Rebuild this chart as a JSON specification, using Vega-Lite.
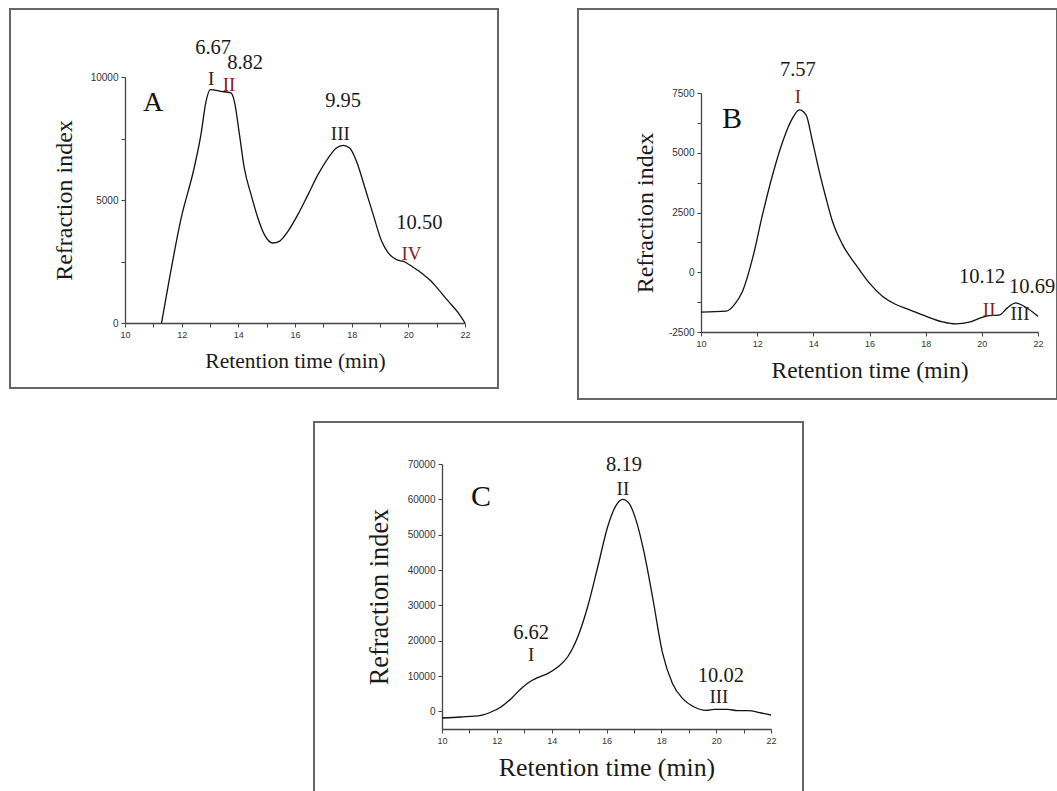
{
  "$schema": "https://vega.github.io/schema/vega-lite/v6.json",
  "padding": {"left": 9, "top": 8, "right": 0, "bottom": 0},
  "background": "white",
  "datasets": {
    "curveA": [
      {"t": 11.29, "ri": 0}, {"t": 11.56, "ri": 1750}, {"t": 11.97, "ri": 4200}, {"t": 12.44, "ri": 6301},
      {"t": 12.68, "ri": 7656}, {"t": 12.86, "ri": 9011}, {"t": 13.01, "ri": 9485}, {"t": 13.39, "ri": 9417},
      {"t": 13.74, "ri": 9350}, {"t": 13.86, "ri": 9011}, {"t": 14.04, "ri": 7656}, {"t": 14.21, "ri": 6301},
      {"t": 14.45, "ri": 5217}, {"t": 14.69, "ri": 4268}, {"t": 14.92, "ri": 3591}, {"t": 15.22, "ri": 3252},
      {"t": 15.45, "ri": 3320}, {"t": 15.75, "ri": 3726}, {"t": 16.10, "ri": 4404}, {"t": 16.46, "ri": 5217},
      {"t": 16.81, "ri": 6030}, {"t": 17.17, "ri": 6707}, {"t": 17.46, "ri": 7114}, {"t": 17.70, "ri": 7222},
      {"t": 17.93, "ri": 7114}, {"t": 18.17, "ri": 6572}, {"t": 18.47, "ri": 5488}, {"t": 18.76, "ri": 4404},
      {"t": 19.06, "ri": 3320}, {"t": 19.29, "ri": 2846}, {"t": 19.59, "ri": 2575}, {"t": 19.88, "ri": 2480},
      {"t": 20.12, "ri": 2304}, {"t": 20.5, "ri": 2000}, {"t": 20.8, "ri": 1707}, {"t": 21.0, "ri": 1450},
      {"t": 21.4, "ri": 900}, {"t": 21.77, "ri": 400}, {"t": 22.0, "ri": 0}
    ],
    "labelsA": [
      {"t": 13.11, "ri": 11179, "label": "6.67", "kind": "peak", "tone": "dark"},
      {"t": 14.24, "ri": 10569, "label": "8.82", "kind": "peak", "tone": "dark"},
      {"t": 13.04, "ri": 9919, "label": "I", "kind": "fraction", "tone": "dark"},
      {"t": 13.67, "ri": 9675, "label": "II", "kind": "fraction", "tone": "red"},
      {"t": 17.70, "ri": 9024, "label": "9.95", "kind": "peak", "tone": "dark"},
      {"t": 17.60, "ri": 7683, "label": "III", "kind": "fraction", "tone": "dark"},
      {"t": 20.39, "ri": 4065, "label": "10.50", "kind": "peak", "tone": "dark"},
      {"t": 20.11, "ri": 2805, "label": "IV", "kind": "fraction", "tone": "red"},
      {"t": 10.99, "ri": 8943, "label": "A", "kind": "panel", "tone": "dark"}
    ],
    "curveB": [
      {"t": 10.0, "ri": -1671}, {"t": 10.89, "ri": -1630}, {"t": 11.19, "ri": -1351}, {"t": 11.48, "ri": -794},
      {"t": 11.84, "ri": 599}, {"t": 12.19, "ri": 2409}, {"t": 12.55, "ri": 4081}, {"t": 12.91, "ri": 5474},
      {"t": 13.26, "ri": 6448}, {"t": 13.50, "ri": 6797}, {"t": 13.74, "ri": 6588}, {"t": 13.97, "ri": 5474},
      {"t": 14.21, "ri": 4220}, {"t": 14.45, "ri": 3106}, {"t": 14.68, "ri": 2131}, {"t": 15.04, "ri": 1156},
      {"t": 15.51, "ri": 320}, {"t": 15.99, "ri": -446}, {"t": 16.46, "ri": -1003}, {"t": 16.94, "ri": -1351},
      {"t": 17.41, "ri": -1560}, {"t": 18.00, "ri": -1838}, {"t": 18.60, "ri": -2075}, {"t": 19.07, "ri": -2159},
      {"t": 19.55, "ri": -2089}, {"t": 19.96, "ri": -1908}, {"t": 20.26, "ri": -1811}, {"t": 20.61, "ri": -1797},
      {"t": 20.91, "ri": -1490}, {"t": 21.21, "ri": -1281}, {"t": 21.50, "ri": -1421}, {"t": 22.0, "ri": -1838}
    ],
    "labelsB": [
      {"t": 13.45, "ri": 8462, "label": "7.57", "kind": "peak", "tone": "dark"},
      {"t": 13.45, "ri": 7333, "label": "I", "kind": "fraction", "tone": "red"},
      {"t": 20.01, "ri": -199, "label": "10.12", "kind": "peak", "tone": "dark"},
      {"t": 20.26, "ri": -1579, "label": "II", "kind": "fraction", "tone": "red"},
      {"t": 21.79, "ri": -613, "label": "10.69", "kind": "peak", "tone": "dark"},
      {"t": 21.36, "ri": -1742, "label": "III", "kind": "fraction", "tone": "dark"},
      {"t": 11.10, "ri": 6412, "label": "B", "kind": "panel", "tone": "dark"}
    ],
    "curveC": [
      {"t": 10.0, "ri": -1887}, {"t": 10.69, "ri": -1604}, {"t": 11.42, "ri": -1132}, {"t": 11.79, "ri": -189},
      {"t": 12.15, "ri": 1226}, {"t": 12.52, "ri": 3585}, {"t": 12.88, "ri": 6415}, {"t": 13.19, "ri": 8302},
      {"t": 13.49, "ri": 9528}, {"t": 13.85, "ri": 10660}, {"t": 14.22, "ri": 12547}, {"t": 14.58, "ri": 15377},
      {"t": 14.95, "ri": 21038}, {"t": 15.31, "ri": 29528}, {"t": 15.68, "ri": 40849}, {"t": 16.04, "ri": 52170},
      {"t": 16.35, "ri": 58302}, {"t": 16.59, "ri": 60000}, {"t": 16.83, "ri": 58774}, {"t": 17.08, "ri": 54057},
      {"t": 17.38, "ri": 44623}, {"t": 17.68, "ri": 32358}, {"t": 18.05, "ri": 16321}, {"t": 18.41, "ri": 7830},
      {"t": 18.78, "ri": 3585}, {"t": 19.20, "ri": 1226}, {"t": 19.63, "ri": 283}, {"t": 19.93, "ri": 566},
      {"t": 20.42, "ri": 566}, {"t": 20.78, "ri": 189}, {"t": 21.15, "ri": 189}, {"t": 21.64, "ri": -472},
      {"t": 22.0, "ri": -1038}
    ],
    "labelsC": [
      {"t": 16.64, "ri": 69717, "label": "8.19", "kind": "peak", "tone": "dark"},
      {"t": 16.60, "ri": 62915, "label": "II", "kind": "fraction", "tone": "dark"},
      {"t": 13.25, "ri": 22105, "label": "6.62", "kind": "peak", "tone": "dark"},
      {"t": 13.25, "ri": 15871, "label": "I", "kind": "fraction", "tone": "dark"},
      {"t": 20.17, "ri": 9919, "label": "10.02", "kind": "peak", "tone": "dark"},
      {"t": 20.10, "ri": 3968, "label": "III", "kind": "fraction", "tone": "dark"},
      {"t": 11.42, "ri": 60648, "label": "C", "kind": "panel", "tone": "dark"}
    ]
  },
  "vconcat": [
    {
      "hconcat": [
        {
          "width": 488, "height": 379,
          "view": {"stroke": "#666666", "strokeWidth": 2},
          "layer": [
            {
              "data": {"name": "curveA"},
              "mark": {"type": "line", "color": "#111111", "strokeWidth": 1.3, "interpolate": "monotone"},
              "encoding": {
                "x": {"field": "t", "type": "quantitative",
                  "scale": {"domain": [10, 22], "range": [115, 455], "nice": false, "zero": false},
                  "axis": {"title": "Retention time (min)", "offset": -65, "values": [10,11,12,13,14,15,16,17,18,19,20,21,22],
                    "labelExpr": "datum.value % 2 == 0 ? datum.label : ''", "titleFontSize": 21.5, "titlePadding": 11}},
                "y": {"field": "ri", "type": "quantitative",
                  "scale": {"domain": [0, 10000], "range": [314, 68], "nice": false, "zero": false},
                  "axis": {"title": "Refraction index", "offset": -115, "values": [0, 2500, 5000, 7500, 10000],
                    "labelExpr": "datum.value % 5000 == 0 ? '' + datum.value : ''", "labelFontSize": 10, "titleFontSize": 24, "titlePadding": 14}}
              }
            },
            {
              "data": {"name": "labelsA"},
              "transform": [{"filter": "datum.kind == 'peak'"}],
              "mark": {"type": "text", "fontSize": 20.5, "color": "#1a1a1a"},
              "encoding": {"x": {"field": "t", "type": "quantitative"}, "y": {"field": "ri", "type": "quantitative"}, "text": {"field": "label"}}
            },
            {
              "data": {"name": "labelsA"},
              "transform": [{"filter": "datum.kind == 'fraction'"}],
              "mark": {"type": "text", "fontSize": 19},
              "encoding": {"x": {"field": "t", "type": "quantitative"}, "y": {"field": "ri", "type": "quantitative"}, "text": {"field": "label"},
                "color": {"field": "tone", "type": "nominal", "scale": {"domain": ["dark", "red"], "range": ["#222222", "#8a2020"]}, "legend": null}}
            },
            {
              "data": {"name": "labelsA"},
              "transform": [{"filter": "datum.kind == 'panel'"}],
              "mark": {"type": "text", "fontSize": 28, "color": "#111111"},
              "encoding": {"x": {"field": "t", "type": "quantitative"}, "y": {"field": "ri", "type": "quantitative"}, "text": {"field": "label"}}
            }
          ]
        },
        {
          "width": 479, "height": 390,
          "view": {"stroke": "#666666", "strokeWidth": 2},
          "layer": [
            {
              "data": {"name": "curveB"},
              "mark": {"type": "line", "color": "#111111", "strokeWidth": 1.3, "interpolate": "monotone"},
              "encoding": {
                "x": {"field": "t", "type": "quantitative",
                  "scale": {"domain": [10, 22], "range": [123, 460], "nice": false, "zero": false},
                  "axis": {"title": "Retention time (min)", "offset": -67, "values": [10,11,12,13,14,15,16,17,18,19,20,21,22],
                    "labelExpr": "datum.value % 2 == 0 ? datum.label : ''", "titleFontSize": 23.5, "titlePadding": 10}},
                "y": {"field": "ri", "type": "quantitative",
                  "scale": {"domain": [-2500, 7500], "range": [323, 84], "nice": false, "zero": false},
                  "axis": {"title": "Refraction index", "offset": -123, "values": [-2500, -1250, 0, 1250, 2500, 3750, 5000, 6250, 7500],
                    "labelExpr": "datum.value % 2500 == 0 ? '' + datum.value : ''", "labelFontSize": 10, "titleFontSize": 24, "titlePadding": 11}}
              }
            },
            {
              "data": {"name": "labelsB"},
              "transform": [{"filter": "datum.kind == 'peak'"}],
              "mark": {"type": "text", "fontSize": 20.5, "color": "#1a1a1a"},
              "encoding": {"x": {"field": "t", "type": "quantitative"}, "y": {"field": "ri", "type": "quantitative"}, "text": {"field": "label"}}
            },
            {
              "data": {"name": "labelsB"},
              "transform": [{"filter": "datum.kind == 'fraction'"}],
              "mark": {"type": "text", "fontSize": 19},
              "encoding": {"x": {"field": "t", "type": "quantitative"}, "y": {"field": "ri", "type": "quantitative"}, "text": {"field": "label"},
                "color": {"field": "tone", "type": "nominal", "scale": {"domain": ["dark", "red"], "range": ["#222222", "#8a2020"]}, "legend": null}}
            },
            {
              "data": {"name": "labelsB"},
              "transform": [{"filter": "datum.kind == 'panel'"}],
              "mark": {"type": "text", "fontSize": 30, "color": "#111111"},
              "encoding": {"x": {"field": "t", "type": "quantitative"}, "y": {"field": "ri", "type": "quantitative"}, "text": {"field": "label"}}
            }
          ]
        }
      ],
      "spacing": 78
    },
    {
      "hconcat": [
        {
          "width": 303, "height": 5,
          "view": {"stroke": null},
          "data": {"values": [{"a": 1}]},
          "mark": {"type": "point", "opacity": 0}
        },
        {
          "width": 489, "height": 370,
          "view": {"stroke": "#666666", "strokeWidth": 2},
          "layer": [
            {
              "data": {"name": "curveC"},
              "mark": {"type": "line", "color": "#111111", "strokeWidth": 1.3, "interpolate": "monotone"},
              "encoding": {
                "x": {"field": "t", "type": "quantitative",
                  "scale": {"domain": [10, 22], "range": [128, 457], "nice": false, "zero": false},
                  "axis": {"title": "Retention time (min)", "offset": -63, "values": [10,11,12,13,14,15,16,17,18,19,20,21,22],
                    "labelExpr": "datum.value % 2 == 0 ? datum.label : ''", "titleFontSize": 25.8, "titlePadding": 10}},
                "y": {"field": "ri", "type": "quantitative",
                  "scale": {"domain": [-5000, 70000], "range": [307, 42], "nice": false, "zero": false},
                  "axis": {"title": "Refraction index", "offset": -128, "format": "d",
                    "values": [0, 10000, 20000, 30000, 40000, 50000, 60000, 70000],
                    "labelFontSize": 10, "titleFontSize": 26.4, "titlePadding": 14}}
              }
            },
            {
              "data": {"name": "labelsC"},
              "transform": [{"filter": "datum.kind == 'peak'"}],
              "mark": {"type": "text", "fontSize": 20.5, "color": "#1a1a1a"},
              "encoding": {"x": {"field": "t", "type": "quantitative"}, "y": {"field": "ri", "type": "quantitative"}, "text": {"field": "label"}}
            },
            {
              "data": {"name": "labelsC"},
              "transform": [{"filter": "datum.kind == 'fraction'"}],
              "mark": {"type": "text", "fontSize": 19},
              "encoding": {"x": {"field": "t", "type": "quantitative"}, "y": {"field": "ri", "type": "quantitative"}, "text": {"field": "label"},
                "color": {"field": "tone", "type": "nominal", "scale": {"domain": ["dark", "red"], "range": ["#222222", "#8a2020"]}, "legend": null}}
            },
            {
              "data": {"name": "labelsC"},
              "transform": [{"filter": "datum.kind == 'panel'"}],
              "mark": {"type": "text", "fontSize": 30, "color": "#111111"},
              "encoding": {"x": {"field": "t", "type": "quantitative"}, "y": {"field": "ri", "type": "quantitative"}, "text": {"field": "label"}}
            }
          ]
        }
      ],
      "spacing": 0
    }
  ],
  "spacing": 21,
  "config": {
    "view": {"stroke": "#666666", "strokeWidth": 2},
    "axis": {
      "grid": false,
      "domainColor": "#444444", "domainWidth": 1.3,
      "tickColor": "#444444", "tickSize": 4, "tickWidth": 1,
      "labelFont": "Liberation Sans", "labelFontSize": 9, "labelColor": "#333333", "labelPadding": 3,
      "labelFlush": false, "labelOverlap": false,
      "titleFont": "Liberation Serif", "titleFontWeight": "normal", "titleColor": "#1a1a1a"
    },
    "text": {"font": "Liberation Serif", "baseline": "middle", "align": "center"}
  }
}
